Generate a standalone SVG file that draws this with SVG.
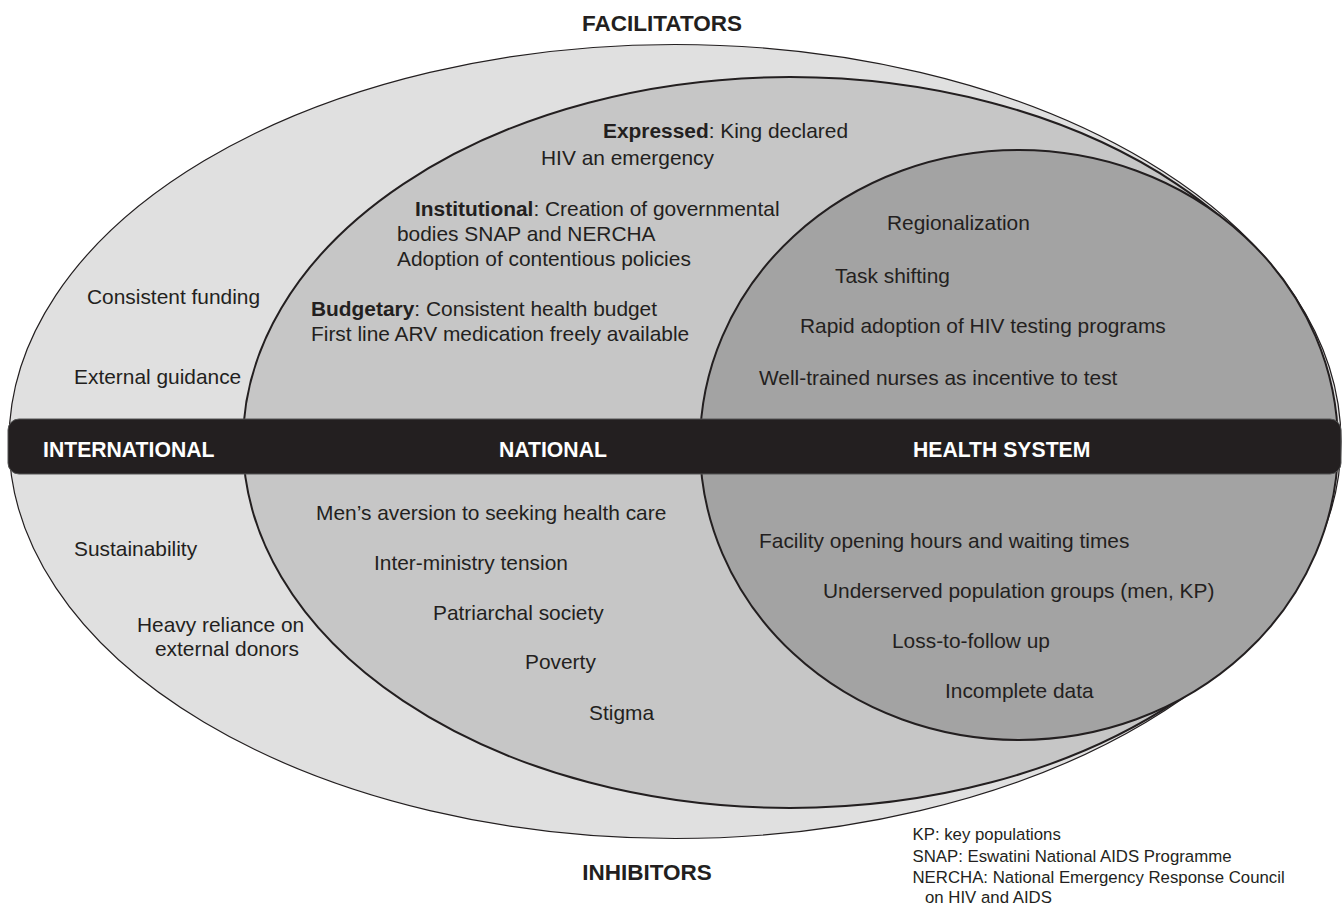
<svg xmlns="http://www.w3.org/2000/svg" width="1343" height="905" viewBox="0 0 1343 905">
  <style>
    text { font-family: "Liberation Sans", Arial, sans-serif; fill: #231f20; }
    .body { font-size: 20.9px; }
    .head { font-size: 22.5px; font-weight: bold; }
    .band { font-size: 21.2px; font-weight: bold; fill: #ffffff; }
    .note { font-size: 16.8px; }
    .b { font-weight: bold; }
    .ring { stroke: #231f20; }
  </style>

  <rect width="1343" height="905" fill="#ffffff"/>

  <!-- nested levels -->
  <g id="international">
    <ellipse class="ring" cx="675" cy="441.5" rx="666" ry="397" fill="#e0e0e0" stroke-width="1.2"/>
  </g>
  <g id="national">
    <ellipse class="ring" cx="790" cy="442.5" rx="547" ry="365.5" fill="#c6c6c6" stroke-width="2"/>
  </g>
  <g id="health-system">
    <ellipse class="ring" cx="1019" cy="445" rx="319" ry="295" fill="#a3a3a3" stroke-width="2"/>
  </g>

  <!-- dividing band -->
  <g id="band">
    <rect x="8" y="419" width="1333" height="55" rx="11" fill="#231f20" stroke="#555" stroke-width="1"/>
    <text class="band" x="43" y="456.5">INTERNATIONAL</text>
    <text class="band" x="499" y="456.5">NATIONAL</text>
    <text class="band" x="913" y="456.5">HEALTH SYSTEM</text>
  </g>

  <g id="headings">
    <text class="head" x="662" y="31" text-anchor="middle">FACILITATORS</text>
    <text class="head" x="647" y="880" text-anchor="middle">INHIBITORS</text>
  </g>

  <!-- facilitators -->
  <g id="facilitators-international" class="body">
    <text x="87" y="304">Consistent funding</text>
    <text x="74" y="384">External guidance</text>
  </g>
  <g id="facilitators-national" class="body">
    <text x="603" y="138"><tspan class="b">Expressed</tspan>: King declared</text>
    <text x="541" y="165">HIV an emergency</text>
    <text x="415" y="216"><tspan class="b">Institutional</tspan>: Creation of governmental</text>
    <text x="397" y="241">bodies SNAP and NERCHA</text>
    <text x="397" y="266">Adoption of contentious policies</text>
    <text x="311" y="316"><tspan class="b">Budgetary</tspan>: Consistent health budget</text>
    <text x="311" y="341">First line ARV medication freely available</text>
  </g>
  <g id="facilitators-health-system" class="body">
    <text x="887" y="230">Regionalization</text>
    <text x="835" y="283">Task shifting</text>
    <text x="800" y="333">Rapid adoption of HIV testing programs</text>
    <text x="759" y="385">Well-trained nurses as incentive to test</text>
  </g>

  <!-- inhibitors -->
  <g id="inhibitors-international" class="body">
    <text x="74" y="556">Sustainability</text>
    <text x="137" y="632">Heavy reliance on</text>
    <text x="155" y="656">external donors</text>
  </g>
  <g id="inhibitors-national" class="body">
    <text x="316" y="520">Men’s aversion to seeking health care</text>
    <text x="374" y="570">Inter-ministry tension</text>
    <text x="433" y="620">Patriarchal society</text>
    <text x="525" y="669">Poverty</text>
    <text x="589" y="720">Stigma</text>
  </g>
  <g id="inhibitors-health-system" class="body">
    <text x="759" y="548">Facility opening hours and waiting times</text>
    <text x="823" y="598">Underserved population groups (men, KP)</text>
    <text x="892" y="648">Loss-to-follow up</text>
    <text x="945" y="698">Incomplete data</text>
  </g>

  <!-- abbreviations -->
  <g id="legend" class="note">
    <text x="912.5" y="840">KP: key populations</text>
    <text x="912.5" y="861.5">SNAP: Eswatini National AIDS Programme</text>
    <text x="912.5" y="882.5">NERCHA: National Emergency Response Council</text>
    <text x="925" y="903">on HIV and AIDS</text>
  </g>
</svg>
